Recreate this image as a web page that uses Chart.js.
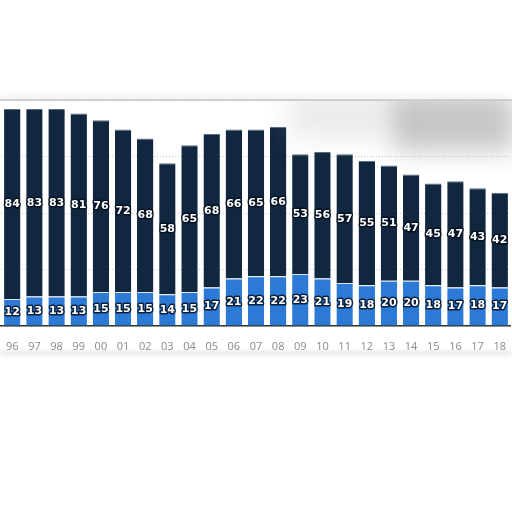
<!DOCTYPE html>
<html>
<head>
<meta charset="utf-8">
<script src="https://cdn.jsdelivr.net/npm/chart.js@4"></script>
<style>
    body { margin: 0; background: #fff; overflow: hidden; width: 512px; height: 512px; position: relative; }
    #wrap { position: absolute; left: 0; top: 0; width: 512px; height: 360px; }
    .topline { position: absolute; left: 0; top: 99px; width: 512px; height: 2px; background: #cfcfcf; box-shadow: 0 -3px 5px rgba(0,0,0,0.12); }
    .clip { position: absolute; left: 0; top: 101px; width: 512px; height: 70px; overflow: hidden; }
    .blob { position: absolute; left: 395px; top: -8px; width: 120px; height: 58px; background: rgba(130,130,130,0.45); filter: blur(12px); }
    .blob2 { position: absolute; left: 290px; top: -8px; width: 120px; height: 45px; background: rgba(170,170,170,0.25); filter: blur(14px); }
    .botline { position: absolute; left: 0; top: 352px; width: 512px; height: 2px; background: rgba(160,160,160,0.5); filter: blur(2px); }
</style>
</head>
<body>
<div class="topline"></div>
<div id="wrap"><canvas id="chart"></canvas></div>
<div class="clip"><div class="blob2"></div><div class="blob"></div></div>
<div class="botline"></div>
<script>
// years 1996 - 2018
const years = ["96", "97", "98", "99", "00", "01", "02", "03", "04", "05", "06", "07",
    "08", "09", "10", "11", "12", "13", "14", "15", "16", "17", "18"];
const lowerValues = [12, 13, 13, 13, 15, 15, 15, 14, 15, 17, 21, 22,
    22, 23, 21, 19, 18, 20, 20, 18, 17, 18, 17];
const upperValues = [84, 83, 83, 81, 76, 72, 68, 58, 65, 68, 66, 65,
    66, 53, 56, 57, 55, 51, 47, 45, 47, 43, 42];
const yTicks = [0, 25, 50, 75, 100];

// draw the value inside each segment
const segmentLabels = {
    id: "segmentLabels",
    afterDatasetsDraw(chart) {
        const ctx = chart.ctx;
        ctx.save();
        ctx.font = "bold 11px 'DejaVu Sans'";
        ctx.textAlign = "center";
        ctx.textBaseline = "middle";
        ctx.lineJoin = "round";
        chart.data.datasets.forEach((ds, i) => {
            chart.getDatasetMeta(i).data.forEach((bar, j) => {
                const y = (bar.y + bar.base) / 2;
                ctx.lineWidth = 3;
                ctx.strokeStyle = "rgba(5,15,30,0.85)";
                ctx.strokeText(ds.data[j], bar.x, y);
                ctx.fillStyle = "#ffffff";
                ctx.fillText(ds.data[j], bar.x, y);
            });
        });
        ctx.restore();
    }
};

new Chart(document.getElementById("chart"), {
    type: "bar",
    data: {
        labels: years,
        datasets: [
            {
                label: "Lower",
                data: lowerValues,
                backgroundColor: "#2c79d6",
                borderColor: "#d6e6f8",
                borderWidth: { top: 1 },
                borderSkipped: "bottom",
                barPercentage: 0.74,
                categoryPercentage: 1
            },
            {
                label: "Upper",
                data: upperValues,
                backgroundColor: "#11273f",
                borderColor: "#5a6b80",
                borderWidth: { top: 1 },
                borderSkipped: "bottom",
                barPercentage: 0.74,
                categoryPercentage: 1
            }
        ]
    },
    options: {
        responsive: true,
        maintainAspectRatio: false,
        animation: false,
        layout: { padding: { top: 100, left: 0, right: 0, bottom: 0 } },
        plugins: {
            legend: { display: false },
            tooltip: { enabled: false }
        },
        scales: {
            x: {
                stacked: true,
                grid: { display: false },
                border: { display: true, color: "#333", width: 1.5 },
                ticks: { color: "#8a8a8a", font: { size: 11, family: "'Open Sans'" }, padding: 6, maxRotation: 0, autoSkip: false },
                afterFit: (scale) => { scale.height = 34; }
            },
            y: {
                stacked: true,
                min: 0,
                max: 100,
                afterBuildTicks: (scale) => { scale.ticks = yTicks.map(v => ({ value: v })); },
                ticks: { display: false },
                grid: { color: "#c8c8c8", drawTicks: false },
                border: { display: false, dash: [1, 2] },
                afterFit: (scale) => { scale.width = 0; }
            }
        }
    },
    plugins: [segmentLabels]
});
</script>
</body>
</html>
